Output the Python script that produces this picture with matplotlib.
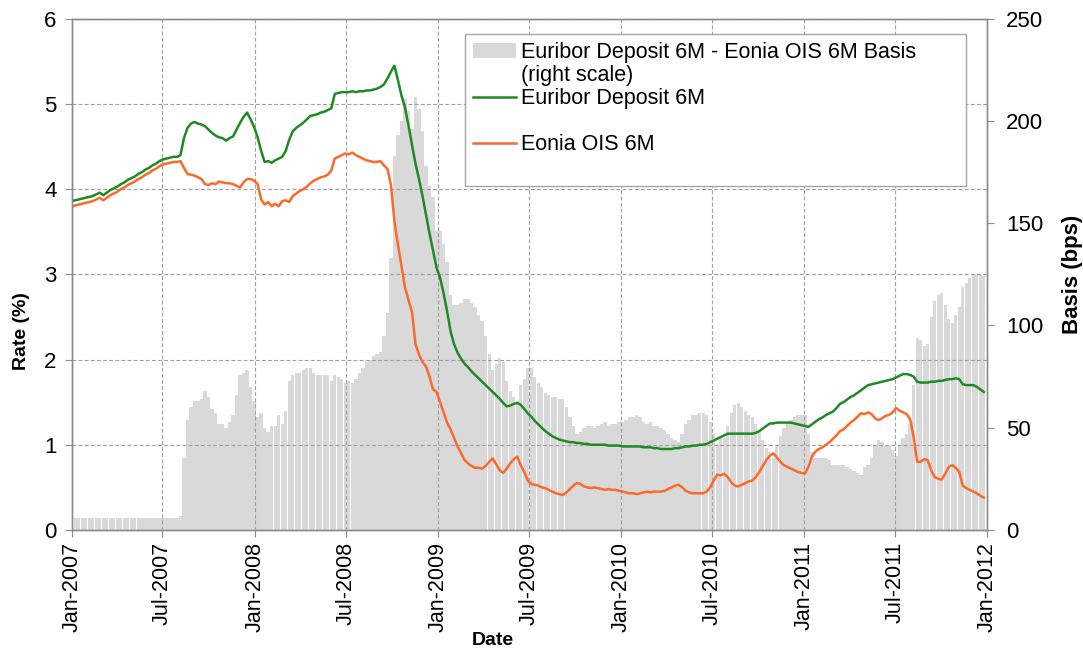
import matplotlib
matplotlib.use("Agg")
import matplotlib.pyplot as plt
import matplotlib.dates as mdates
from matplotlib.lines import Line2D
import numpy as np
import pandas as pd

plt.rcParams['font.family'] = ['Liberation Sans', 'DejaVu Sans']

# weekly observations, Jan-2007 .. Dec-2011
dates = pd.date_range("2007-01-01", periods=261, freq="7D")

# Euribor Deposit 6M (%)
euribor_6m = np.array([
    3.86, 3.87, 3.88, 3.89, 3.90, 3.91, 3.92, 3.94, 3.96, 3.93, 3.96, 3.99, 4.01,
    4.03, 4.06, 4.08, 4.11, 4.13, 4.15, 4.18, 4.20, 4.23, 4.25, 4.28, 4.30, 4.33,
    4.35, 4.36, 4.37, 4.38, 4.38, 4.40,
    4.60, 4.72, 4.77, 4.79, 4.77, 4.76, 4.74, 4.70, 4.66, 4.63, 4.61, 4.60, 4.57,
    4.60, 4.62, 4.70, 4.78, 4.85, 4.90, 4.82, 4.73,
    4.61, 4.45, 4.32, 4.33, 4.31, 4.34, 4.36, 4.38, 4.45, 4.58, 4.68, 4.72, 4.75,
    4.78, 4.82, 4.86, 4.87, 4.88, 4.90, 4.91, 4.93, 4.95,
    5.12, 5.13, 5.14, 5.14, 5.14, 5.15, 5.14, 5.15, 5.15, 5.16, 5.16, 5.17, 5.18,
    5.20, 5.23, 5.30, 5.38, 5.45, 5.28, 5.10, 4.96, 4.75, 4.52, 4.30, 4.12, 3.92,
    3.70, 3.48, 3.28, 3.08, 2.96, 2.78, 2.57, 2.33, 2.18, 2.08,
    2.01, 1.95, 1.91, 1.86, 1.82, 1.78, 1.74, 1.70, 1.66, 1.62, 1.58, 1.54, 1.49,
    1.45, 1.46, 1.48, 1.49, 1.47, 1.42, 1.37, 1.33, 1.28, 1.24, 1.20, 1.16, 1.13,
    1.10, 1.08, 1.06, 1.05, 1.04, 1.03, 1.03, 1.02, 1.02, 1.01, 1.01, 1.00, 1.00,
    1.00, 1.00, 1.00, 0.99, 0.99, 0.99, 0.99, 0.98, 0.98, 0.98, 0.98, 0.98, 0.98,
    0.97, 0.97, 0.97, 0.96, 0.96, 0.95, 0.95, 0.95, 0.95, 0.96, 0.96, 0.97, 0.98,
    0.98, 0.99, 0.99, 1.00, 1.00, 1.01, 1.03, 1.05, 1.07, 1.09,
    1.11, 1.13, 1.13, 1.13, 1.13, 1.13, 1.13, 1.13, 1.13, 1.14,
    1.16, 1.19, 1.22, 1.25, 1.25, 1.26, 1.26, 1.26, 1.26, 1.26,
    1.25, 1.24, 1.23, 1.22, 1.21, 1.24, 1.27, 1.30, 1.32, 1.35,
    1.37, 1.39, 1.43, 1.48, 1.50, 1.53, 1.56, 1.58, 1.61, 1.64,
    1.67, 1.70, 1.71, 1.72, 1.73, 1.74, 1.75, 1.76, 1.77, 1.79,
    1.81, 1.83, 1.83, 1.82, 1.80, 1.74, 1.73, 1.73, 1.73, 1.74,
    1.74, 1.75, 1.75, 1.76, 1.77, 1.77, 1.78, 1.77, 1.71, 1.70,
    1.70, 1.70, 1.68, 1.65, 1.62,
])

# Eonia OIS 6M (%)
eonia_ois_6m = np.array([
    3.79, 3.81, 3.82, 3.83, 3.84, 3.85, 3.86, 3.88, 3.90, 3.87, 3.90, 3.93, 3.95,
    3.97, 4.00, 4.02, 4.05, 4.07, 4.09, 4.12, 4.14, 4.17, 4.19, 4.22, 4.24, 4.27,
    4.29, 4.30, 4.31, 4.32, 4.32, 4.33,
    4.25, 4.18, 4.17, 4.16, 4.14, 4.12, 4.06, 4.05, 4.07, 4.06, 4.09, 4.08, 4.07,
    4.07, 4.06, 4.04, 4.02, 4.08, 4.12, 4.12, 4.10,
    4.06, 3.88, 3.82, 3.85, 3.80, 3.83, 3.80, 3.86, 3.87, 3.85, 3.92, 3.95, 3.98,
    4.00, 4.03, 4.07, 4.10, 4.12, 4.14, 4.15, 4.17, 4.22,
    4.36, 4.38, 4.40, 4.42, 4.41, 4.43, 4.40, 4.38, 4.36, 4.34, 4.33, 4.32, 4.32,
    4.33, 4.28, 4.24, 4.05, 3.62, 3.35, 3.10, 2.85, 2.70, 2.56, 2.18, 2.06, 1.97,
    1.92, 1.80, 1.65, 1.62, 1.50, 1.38, 1.26, 1.18, 1.08, 0.98,
    0.90, 0.82, 0.78, 0.75, 0.73, 0.73, 0.72, 0.75, 0.80, 0.84, 0.77, 0.70, 0.67,
    0.72, 0.78, 0.83, 0.86, 0.76, 0.68, 0.58, 0.54, 0.53, 0.52, 0.50, 0.49, 0.47,
    0.45, 0.43, 0.42, 0.41, 0.44, 0.48, 0.52, 0.55, 0.54, 0.51, 0.50, 0.49, 0.50,
    0.49, 0.48, 0.47, 0.48, 0.47, 0.47, 0.46, 0.45, 0.44, 0.43, 0.43, 0.42, 0.43,
    0.44, 0.45, 0.44, 0.45, 0.45, 0.45, 0.46, 0.48, 0.50, 0.52, 0.53, 0.50, 0.46,
    0.44, 0.43, 0.43, 0.43, 0.43, 0.45, 0.50, 0.58, 0.65, 0.64,
    0.66, 0.62, 0.56, 0.52, 0.51, 0.53, 0.55, 0.57, 0.58, 0.62,
    0.68, 0.75, 0.82, 0.87, 0.90, 0.85, 0.80, 0.76, 0.74, 0.72,
    0.70, 0.68, 0.67, 0.66, 0.74, 0.86, 0.92, 0.95, 0.97, 1.00,
    1.03, 1.07, 1.11, 1.16, 1.18, 1.22, 1.26, 1.29, 1.33, 1.37,
    1.36, 1.38, 1.36, 1.31, 1.29, 1.31, 1.34, 1.35, 1.38, 1.43,
    1.40, 1.38, 1.36, 1.30, 1.09, 0.80, 0.80, 0.83, 0.82, 0.70,
    0.62, 0.60, 0.59, 0.66, 0.74, 0.76, 0.73, 0.68, 0.52, 0.49,
    0.47, 0.45, 0.43, 0.40, 0.38,
])

# basis in bps (right scale)
basis_bps = (euribor_6m - eonia_ois_6m) * 100

GREEN = '#1f8a24'
ORANGE = '#fb6a2c'
BAR = '#d9d9d9'
AXC = '#8c8c8c'

fig = plt.figure(figsize=(10.83, 6.51), dpi=100)
ax = fig.add_axes([0.0662, 0.186, 0.845, 0.785])
ax2 = ax.twinx()
ax.set_zorder(2)
ax2.set_zorder(1)
ax.patch.set_visible(False)

bars = ax2.bar(dates, basis_bps, width=6.6, color=BAR, linewidth=0)
l1, = ax.plot(dates, euribor_6m, color=GREEN, lw=1.8)
l2, = ax.plot(dates, eonia_ois_6m, color=ORANGE, lw=1.8)

ax.set_xlim(pd.Timestamp("2007-01-01"), pd.Timestamp("2012-01-01"))
ax.set_ylim(0, 6)
ax2.set_ylim(0, 250)
ax.set_yticks(range(0, 7))
ax2.set_yticks(range(0, 251, 50))

ax.xaxis.set_major_locator(mdates.MonthLocator(bymonth=[1, 7]))
ax.xaxis.set_major_formatter(mdates.DateFormatter('%b-%Y'))
plt.setp(ax.get_xticklabels(), rotation=90)

ax.grid(True, color='#a0a0a0', linestyle=(0, (3.5, 2)), linewidth=0.8)

for a in (ax, ax2):
    for s in a.spines.values():
        s.set_color(AXC)
        s.set_linewidth(1.0)
ax.tick_params(axis='y', labelsize=16, colors=AXC, labelcolor='black', length=5, pad=6)
ax.tick_params(axis='x', labelsize=15.5, colors=AXC, labelcolor='black', length=5)
ax2.tick_params(axis='y', labelsize=16, colors=AXC, labelcolor='black', length=5, pad=9)

ax.set_ylabel('Rate (%)', fontsize=14, fontweight='bold')
ax.yaxis.set_label_coords(-0.046, 0.39)
ax2.set_ylabel('Basis (bps)', fontsize=16, fontweight='bold')
ax2.yaxis.set_label_coords(1.082, 0.5)
ax.set_xlabel('Date', fontsize=14, fontweight='bold')
ax.xaxis.set_label_coords(0.46, -0.2)

# legend rows laid out like the original (label wrapped, gap before last entry)
blank = Line2D([], [], color='none')
handles = [bars, blank, l1, blank, l2, blank]
labels = ['Euribor Deposit 6M - Eonia OIS 6M Basis', '(right scale)',
          'Euribor Deposit 6M', ' ', 'Eonia OIS 6M', ' ']
leg = ax.legend(handles, labels, loc='upper left',
                bbox_to_anchor=(0.43, 0.0, 0.547, 0.97), mode='expand',
                fontsize=15.5, frameon=True, fancybox=False, framealpha=1,
                edgecolor='#a6a6a6', handlelength=2.0, handletextpad=0.25,
                labelspacing=0.1, borderpad=0.35, borderaxespad=0)
leg.get_frame().set_linewidth(1.0)

fig.savefig('out.png', dpi=100)
